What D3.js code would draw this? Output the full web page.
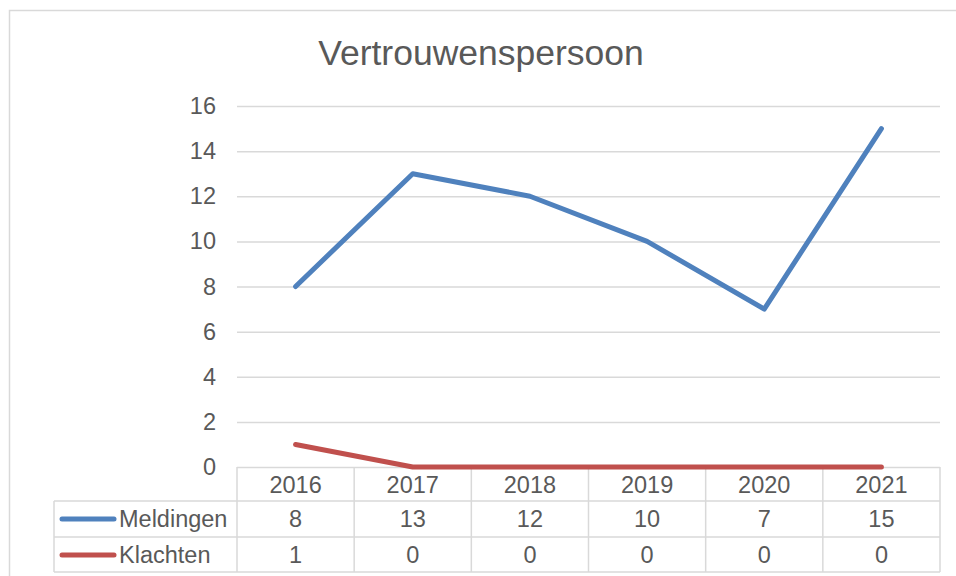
<!DOCTYPE html>
<html>
<head>
<meta charset="utf-8">
<script src="https://cdn.jsdelivr.net/npm/d3@7"></script>
<style>
  body { margin: 0; background: #fff; }
  text { font-family: "Liberation Sans", Arial, sans-serif; fill: #595959; }
</style>
</head>
<body>
<svg id="chart" width="956" height="576"></svg>
<script>
// DATA
var years = ["2016", "2017", "2018", "2019", "2020", "2021"];
var meldingen = [8, 13, 12, 10, 7, 15];
var klachten = [1, 0, 0, 0, 0, 0];
var yTicks = [0, 2, 4, 6, 8, 10, 12, 14, 16];
var seriesNames = ["Meldingen", "Klachten"];
var seriesColors = ["#4F81BD", "#C0504D"];

var svg = d3.select("#chart");
var grid = "#d9d9d9";
var fs = "23.5px";

// outer frame
svg.append("rect")
    .attr("x", 9.5).attr("y", 10.5)
    .attr("width", 960).attr("height", 580)
    .attr("fill", "none").attr("stroke", grid).attr("stroke-width", 1.5);

// title
svg.append("text")
    .attr("x", 481).attr("y", 65)
    .attr("text-anchor", "middle")
    .style("font-size", "35.5px")
    .text("Vertrouwenspersoon");

// SCALES
var plotLeft = 237, plotRight = 940, plotTop = 106, plotBottom = 467;
var x = d3.scaleBand().domain(years).range([plotLeft, plotRight]);
var y = d3.scaleLinear().domain([0, 16]).range([plotBottom, plotTop]);

// gridlines + y labels
var yAxis = svg.append("g")
    .attr("transform", "translate(" + plotLeft + ",0)")
    .call(d3.axisLeft(y).tickValues(yTicks).tickSize(-(plotRight - plotLeft)).tickPadding(21));
yAxis.select(".domain").remove();
yAxis.selectAll(".tick line").attr("stroke", grid).attr("stroke-width", 1.5);
yAxis.selectAll(".tick text")
    .style("font-size", fs)
    .style("font-family", "'Liberation Sans', Arial, sans-serif")
    .attr("fill", "#595959");

// DATA TABLE
var rowLines = [467, 501, 537, 572];
var tableLeft = 54;
var tbl = svg.append("g").attr("stroke", grid).attr("stroke-width", 1.5);
// horizontal lines
tbl.selectAll(".h").data(rowLines.slice(1)).enter().append("line")
    .attr("x1", tableLeft)
    .attr("x2", plotRight)
    .attr("y1", function (d) { return d; })
    .attr("y2", function (d) { return d; });
// vertical lines
var vx = years.map(function (d) { return x(d); }).concat([plotRight]);
tbl.selectAll(".v").data(vx).enter().append("line")
    .attr("x1", function (d) { return d; })
    .attr("x2", function (d) { return d; })
    .attr("y1", rowLines[0])
    .attr("y2", rowLines[3]);
tbl.append("line")
    .attr("x1", tableLeft).attr("x2", tableLeft)
    .attr("y1", rowLines[1]).attr("y2", rowLines[3]);

// header years
svg.selectAll(".yr").data(years).enter().append("text")
    .attr("x", function (d) { return x(d) + x.bandwidth() / 2; })
    .attr("y", 493)
    .attr("text-anchor", "middle")
    .style("font-size", fs)
    .text(function (d) { return d; });

// rows
var rows = [meldingen, klachten];
var rowBase = [527, 563];
rows.forEach(function (vals, r) {
    svg.selectAll(".cell" + r).data(vals).enter().append("text")
        .attr("x", function (d, i) { return x(years[i]) + x.bandwidth() / 2; })
        .attr("y", rowBase[r])
        .attr("text-anchor", "middle")
        .style("font-size", fs)
        .text(function (d) { return d; });
    // legend key
    svg.append("line")
        .attr("x1", 62).attr("x2", 114)
        .attr("y1", rowBase[r] - 8).attr("y2", rowBase[r] - 8)
        .attr("stroke", seriesColors[r]).attr("stroke-width", 5)
        .attr("stroke-linecap", "round");
    svg.append("text")
        .attr("x", 119).attr("y", rowBase[r])
        .style("font-size", fs)
        .text(seriesNames[r]);
});

// LINES
var line = d3.line()
    .x(function (d, i) { return x(years[i]) + x.bandwidth() / 2; })
    .y(function (d) { return y(d); });
rows.forEach(function (vals, r) {
    svg.append("path")
        .datum(vals)
        .attr("d", line)
        .attr("fill", "none")
        .attr("stroke", seriesColors[r])
        .attr("stroke-width", 5)
        .attr("stroke-linecap", "round")
        .attr("stroke-linejoin", "round");
});
</script>
</body>
</html>
